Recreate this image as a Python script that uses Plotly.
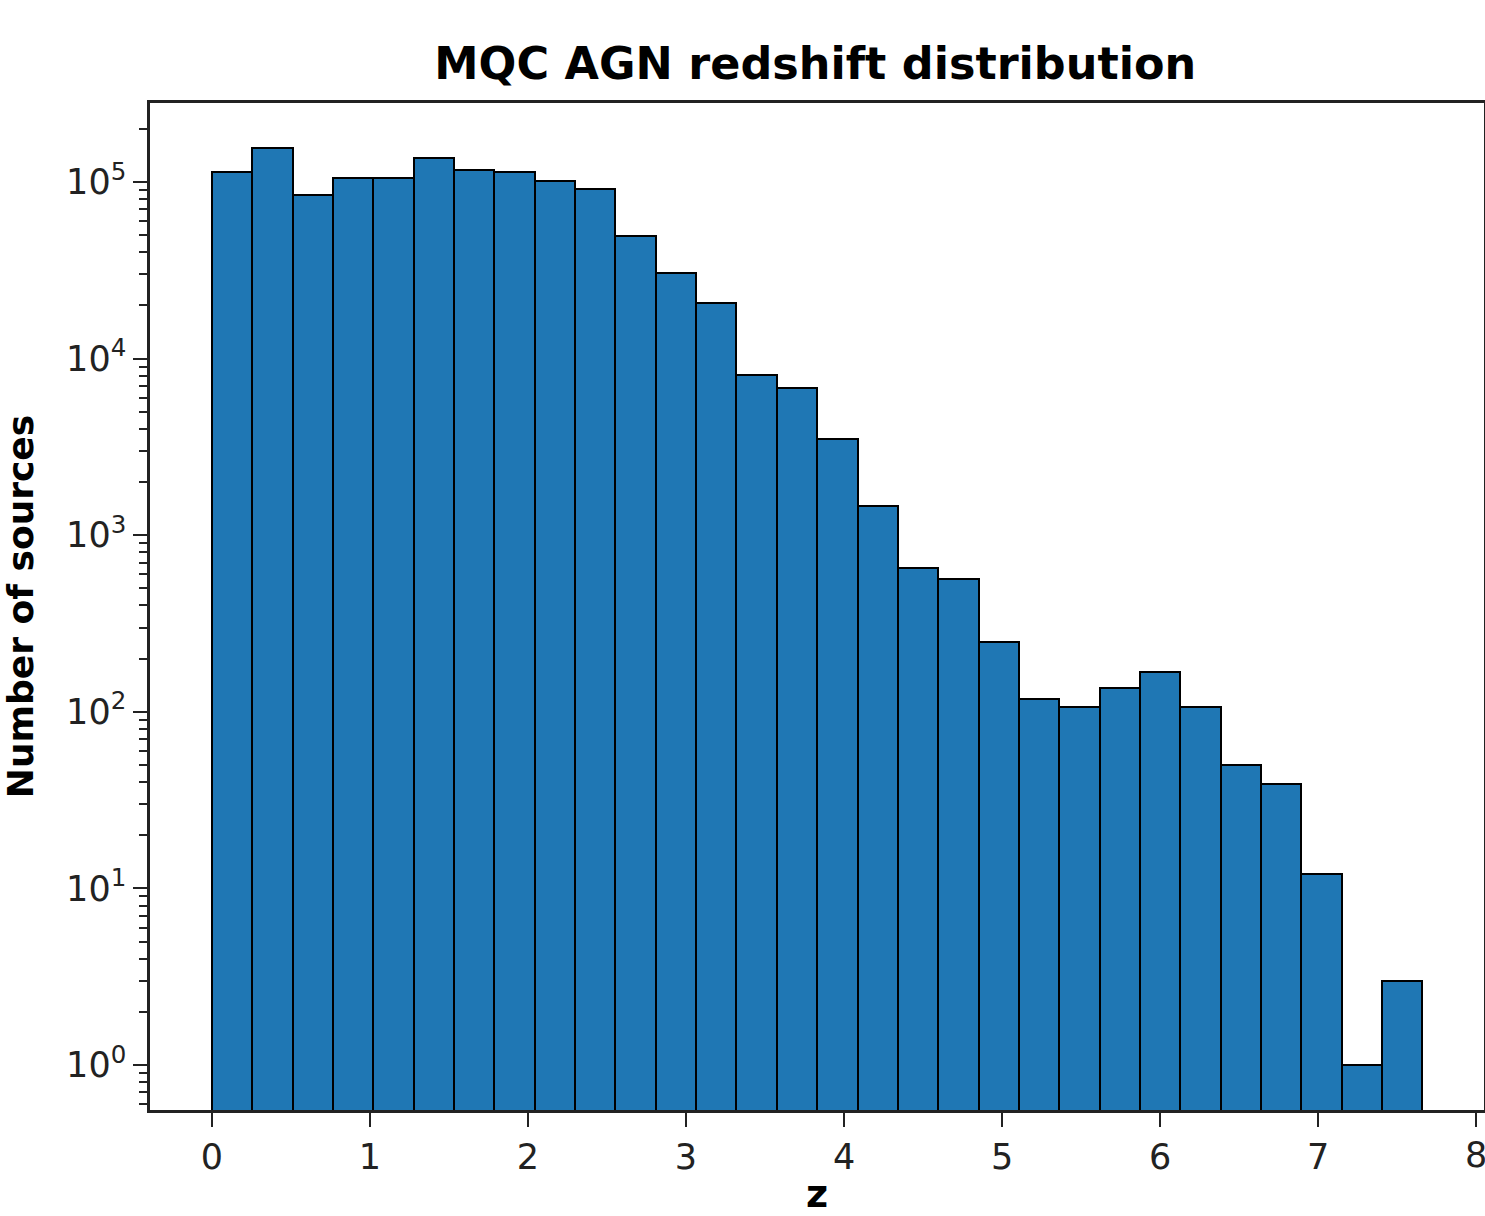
import numpy as np
import plotly.graph_objects as go

# Histogram data
z_min = 0.0
z_max = 7.66
n_bins = 30
counts = [114000, 156000, 84400, 105000, 105000, 137000, 117000, 114000, 101000, 91300,
          49400, 30500, 20600, 8070, 6810, 3500, 1464, 652, 565, 248,
          118, 107, 136, 168, 107, 50, 39, 12, 1, 3]

y_tick_vals = [1, 10, 100, 1000, 10000, 100000]
y_tick_text = ["10<sup>0</sup>", "10<sup>1</sup>", "10<sup>2</sup>", "10<sup>3</sup>",
               "10<sup>4</sup>", "10<sup>5</sup>"]
y_minor_vals = [m * 10 ** d for d in range(-1, 6) for m in range(2, 10)]
x_tick_vals = [0, 1, 2, 3, 4, 5, 6, 7, 8]
x_tick_text = ["0", "1", "2", "3", "4", "5", "6", "7", "8"]

edges = np.linspace(z_min, z_max, n_bins + 1)
centers = (edges[:-1] + edges[1:]) / 2
width = edges[1] - edges[0]

fig = go.Figure(go.Bar(
    x=centers, y=counts, width=width,
    marker=dict(color="#1f77b4", line=dict(color="black", width=2)),
))

font = "DejaVu Sans, sans-serif"
tick_font = dict(family=font, size=35, color="#222")

# the last x label sits at the page edge; draw it as an annotation so it is not dropped
fig.add_annotation(x=x_tick_vals[-1], xref="x", y=0, yref="paper",
                   text=x_tick_text[-1], showarrow=False, xanchor="center",
                   yanchor="middle", yshift=-45, font=tick_font)

fig.update_layout(
    width=1485, height=1216,
    margin=dict(l=150, r=1, t=103, b=106),
    paper_bgcolor="white", plot_bgcolor="white",
    showlegend=False,
    bargap=0,
    title=dict(text="<b>MQC AGN redshift distribution</b>", x=0.549, xanchor="center",
               y=1 - 63 / 1216, yanchor="middle",
               font=dict(family=font, size=44.5, color="black")),
    font=dict(family=font, color="#222"),
)
fig.update_xaxes(
    range=[-0.392, 8.05], tickvals=x_tick_vals, ticktext=x_tick_text[:-1] + [""],
    automargin=False,
    ticks="outside", ticklen=14, tickwidth=2, tickcolor="#222",
    showline=True, linewidth=2.5, linecolor="#222", mirror=True,
    showgrid=False, zeroline=False,
    tickfont=tick_font,
    title=dict(text="<b>z</b>", font=dict(family=font, size=38, color="black"), standoff=22),
)
fig.update_yaxes(
    type="log", range=[-0.2548, 5.447], automargin=False,
    tickvals=y_tick_vals, ticktext=y_tick_text,
    ticks="outside", ticklen=14, tickwidth=2, tickcolor="#222",
    minor=dict(tickmode="array", tickvals=y_minor_vals, ticks="outside", ticklen=8,
               tickwidth=1.5, tickcolor="#222", showgrid=False),
    showline=True, linewidth=2.5, linecolor="#222", mirror=True,
    showgrid=False, zeroline=False,
    tickfont=tick_font,
    title=dict(text="<b>Number of sources</b>", font=dict(family=font, size=36, color="black"), standoff=22),
)

fig.write_html("out.html")
